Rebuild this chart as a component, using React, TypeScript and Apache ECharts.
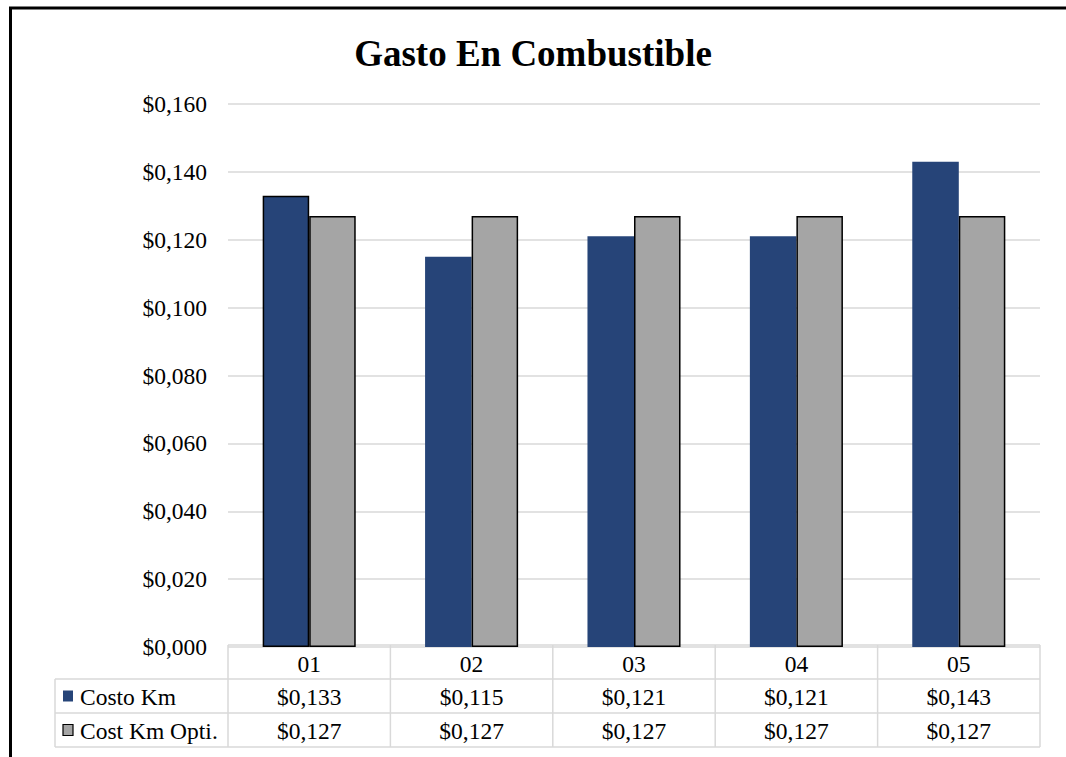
import React, { useEffect, useRef } from "react";
import * as echarts from "echarts";

const categories = ["01", "02", "03", "04", "05"];
const costoKm = [0.133, 0.115, 0.121, 0.121, 0.143];
const costKmOpti = [0.127, 0.127, 0.127, 0.127, 0.127];
const seriesNames = ["Costo Km", "Cost Km Opti."];
const seriesColors = ["#264478", "#a5a5a5"];
const yTicks = { min: 0, max: 0.16, interval: 0.02 };

const fmt = (v: number) => "$" + v.toFixed(3).replace(".", ",");

export default function App() {
  const ref = useRef<HTMLDivElement>(null);
  useEffect(() => {
    if (!ref.current) return;
    const chart = echarts.init(ref.current, null, { renderer: "svg" });
    const font = "Liberation Serif";
    const fs = 23.5;
    const gridLeft = 228;
    const gridRight = 26;
    const gridTop = 104;
    const gridBottom = 110;
    const W = 1066;
    const H = 757;
    chart.setOption({
      animation: false,
      backgroundColor: "#ffffff",
      title: {
        text: "Gasto En Combustible",
        left: "center",
        top: 30,
        textStyle: { fontFamily: font, fontSize: 37, fontWeight: "bold", color: "#000" },
      },
      grid: { left: gridLeft, right: gridRight, top: gridTop, bottom: gridBottom },
      xAxis: {
        type: "category",
        data: categories,
        axisLine: { show: false },
        axisTick: { show: false },
        axisLabel: { fontFamily: font, fontSize: fs, color: "#000", margin: 5 },
      },
      yAxis: {
        type: "value",
        min: yTicks.min,
        max: yTicks.max,
        interval: yTicks.interval,
        axisLabel: { formatter: fmt, fontFamily: font, fontSize: fs, color: "#000", margin: 21 },
        splitLine: { lineStyle: { color: "#d9d9d9", width: 1.5 } },
        axisLine: { show: false },
        axisTick: { show: false },
      },
      series: [
        {
          name: seriesNames[0],
          type: "bar",
          barGap: "0%",
          barCategoryGap: "42.7%",
          itemStyle: { color: seriesColors[0] },
          data: costoKm.map((v, i) =>
            i === 0
              ? { value: v, itemStyle: { borderColor: "#000", borderWidth: 1.5 } }
              : { value: v }
          ),
        },
        {
          name: seriesNames[1],
          type: "bar",
          itemStyle: { color: seriesColors[1], borderColor: "#000", borderWidth: 1.5 },
          data: costKmOpti,
        },
      ],
    });

    const plotW = W - gridLeft - gridRight;
    const catW = plotW / categories.length;
    const yHead = H - gridBottom - 2;
    const rowH = 34;
    const y1 = yHead + 34;
    const y2 = y1 + rowH;
    const y3 = y2 + rowH;
    const legendLeft = 55;
    const lineStyle = { stroke: "#d9d9d9", lineWidth: 1.5 };
    const graphics: any[] = [];
    graphics.push({
      type: "rect",
      shape: { x: 10.5, y: 8, width: 1200, height: 900 },
      style: { fill: "none", stroke: "#000", lineWidth: 3 },
      z: 100,
    });
    graphics.push({ type: "line", shape: { x1: gridLeft, y1: yHead, x2: W - gridRight, y2: yHead }, style: lineStyle });
    [y1, y2, y3].forEach((y) =>
      graphics.push({ type: "line", shape: { x1: legendLeft, y1: y, x2: W - gridRight, y2: y }, style: lineStyle })
    );
    graphics.push({ type: "line", shape: { x1: legendLeft, y1: y1, x2: legendLeft, y2: y3 }, style: lineStyle });
    for (let i = 0; i <= categories.length; i++) {
      const x = gridLeft + i * catW;
      graphics.push({ type: "line", shape: { x1: x, y1: yHead, x2: x, y2: y3 }, style: lineStyle });
    }
    const rows = [costoKm, costKmOpti];
    rows.forEach((arr, r) => {
      const yc = (r === 0 ? y1 : y2) + rowH / 2;
      graphics.push({
        type: "rect",
        shape: { x: 63, y: yc - 5.5, width: 10, height: 11 },
        style: { fill: seriesColors[r], stroke: r === 1 ? "#000" : "none", lineWidth: 1.2 },
      });
      graphics.push({
        type: "text",
        x: 80,
        y: yc + 1,
        style: {
          text: seriesNames[r],
          fontFamily: font,
          fontSize: fs,
          fill: "#000",
          align: "left",
          verticalAlign: "middle",
        },
      });
      arr.forEach((v, i) => {
        graphics.push({
          type: "text",
          x: gridLeft + (i + 0.5) * catW,
          y: yc + 1,
          style: {
            text: fmt(v),
            fontFamily: font,
            fontSize: fs,
            fill: "#000",
            align: "center",
            verticalAlign: "middle",
          },
        });
      });
    });
    chart.setOption({ graphic: graphics });
    return () => chart.dispose();
  }, []);
  return (
    <div
      ref={ref}
      style={{ position: "absolute", left: 0, top: 0, width: 1066, height: 757 }}
    />
  );
}
